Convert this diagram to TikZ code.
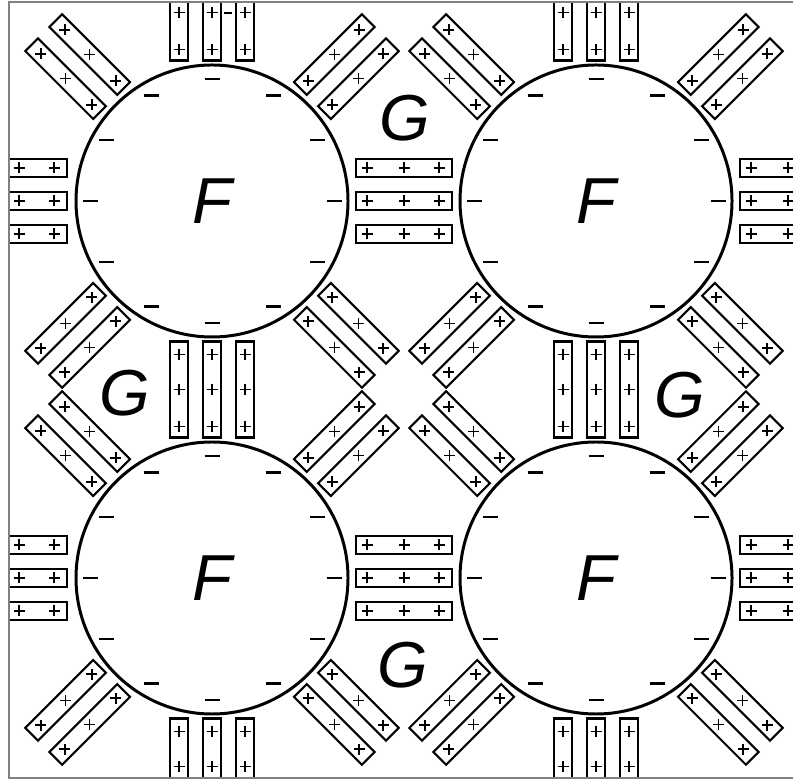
\documentclass[tikz,border=0pt]{standalone}
\usepackage{fontspec}
\setmainfont{Liberation Sans}
\usetikzlibrary{calc}

\tikzset{
  rod/.style={draw, line width=1.2pt},
  plus/.style={line width=0.9pt},
  ring/.style={line width=1.7pt},
  minus/.style={line width=1.5pt},
  letter/.style={font=\fontsize{37}{40}\selectfont\itshape, inner sep=0pt},
}

% one charged rod: centre, angle
\newcommand{\rodbox}[2]{%
  \begin{scope}[shift={#1}]
    \draw[rod, rotate=#2] (-48,-9) rectangle (48,9);
    \foreach \p in {-37,0,35}
      \draw[plus] (#2:\p) +(-5.5,0) -- +(5.5,0) +(0,-5.5) -- +(0,5.5);
  \end{scope}}

\begin{document}
\begin{tikzpicture}[x=0.02cm, y=0.02cm]
        %
        \def\colA{212} \def\colB{596}
        \def\rowA{579} \def\rowB{202}
        \def\radF{136}

        \useasboundingbox (0,0) rectangle (793,780);

        \coordinate (TL) at (\colA,\rowA);
        \coordinate (TR) at (\colB,\rowA);
        \coordinate (BL) at (\colA,\rowB);
        \coordinate (BR) at (\colB,\rowB);

        \begin{scope}
          \clip (9,2) rectangle (793,778);
          %
          \foreach \gx in {19,404,788}
            \foreach \gy in {\rowA,\rowB}
              \foreach \d in {-33,0,33} {
                \rodbox{(\gx,\gy+\d)}{0}
              }
          %
          \foreach \gx in {\colA,\colB}
            \foreach \gy in {13.5,390.5,767.5}
              \foreach \d in {-33,0,33} {
                \rodbox{(\gx+\d,\gy)}{90}
              }
          %
          \foreach \c in {TL,TR,BL,BR}
            \foreach \a in {45,135,225,315}
              \foreach \d in {-17,17} {
                \rodbox{($(\c)+(\a:190)+(\a+90:\d)$)}{\a}
              }
        \end{scope}

        \foreach \c in {TL,TR,BL,BR} {
          \draw[ring, fill=white] (\c) circle (\radF);
          \foreach \k in {0,...,11}
            \draw[minus] ($(\c)+(\k*30:122)$) +(-7.5,0) -- +(7.5,0);
        }
        \draw[minus] (224,767) -- (232,767);

        \node[letter] (F-tl) at (TL) {F};
        \node[letter] (F-tr) at (TR) {F};
        \node[letter] (F-bl) at (BL) {F};
        \node[letter] (F-br) at (BR) {F};

        \node[letter] (G-top) at (405,662) {G};
        \node[letter] (G-left) at (125,387) {G};
        \node[letter] (G-right) at (680,385) {G};
        \node[letter] (G-bottom) at (403,115) {G};

        \draw[gray, line width=0.6pt] (793,778) -- (9,778) -- (9,2) -- (793,2);
    \end{tikzpicture}
\end{document}
